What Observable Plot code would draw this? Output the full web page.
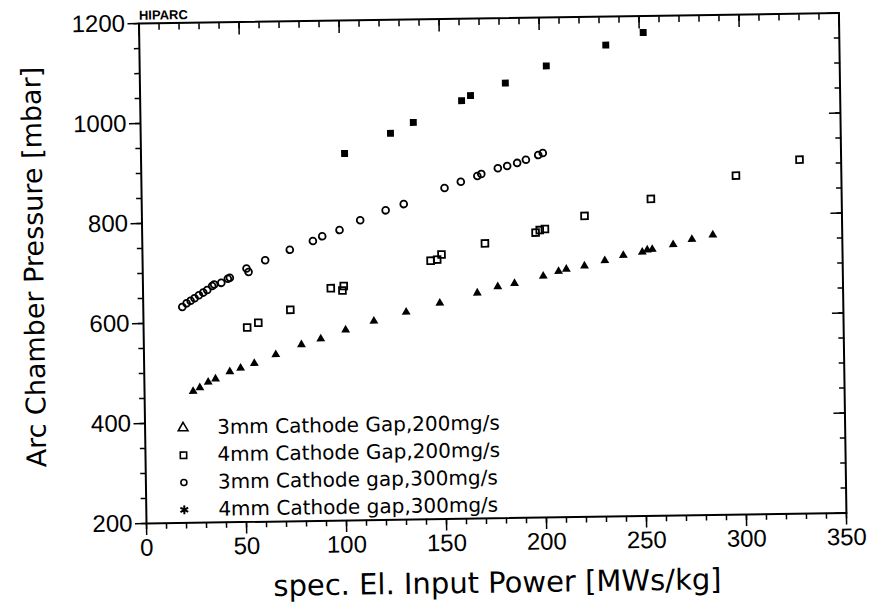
<!DOCTYPE html>
<html>
<head>
<meta charset="utf-8">
<script src="https://cdn.jsdelivr.net/npm/d3@7"></script>
<script src="https://cdn.jsdelivr.net/npm/@observablehq/plot@0.6"></script>
<style>
  html, body { margin: 0; padding: 0; background: white; }
  #chart { width: 871px; height: 608px; transform: rotate(-0.86deg); transform-origin: 146px 523px; }
</style>
</head>
<body>
<div id="chart"></div>
<script>
// ---- data ----
const xTitle = "spec. El. Input Power [MWs/kg]";
const yTitle = "Arc Chamber Pressure [mbar]";
const tagText = "HIPARC";

const xMajorTicks = [0, 50, 100, 150, 200, 250, 300, 350];
const xMinorTicks = d3.range(0, 351, 10);
const yMajorTicks = [200, 400, 600, 800, 1000, 1200];
const yMinorTicks = d3.range(200, 1201, 50);

const seriesLabels = [
  "3mm Cathode Gap,200mg/s",
  "4mm Cathode Gap,200mg/s",
  "3mm Cathode gap,300mg/s",
  "4mm Cathode gap,300mg/s"
];
const legendSymbols = ["triangle", "square", "circle", "asterisk"];

// 3mm Cathode Gap, 200 mg/s (triangles)
const triX = [24.3, 27.7, 31.9, 35.6, 42.8, 48.2, 55.1, 65.9, 78.8, 88.5, 101.0, 115.2, 131.4, 148.3, 167.1, 177.4, 185.8, 200.2, 207.9, 211.8, 220.9, 231.1, 240.4, 249.9, 252.4, 254.9, 265.4, 274.8, 285.3];
const triY = [463, 470, 481, 487, 501, 508, 517, 534, 553, 564, 581, 598, 615, 632, 651, 663, 669, 683, 692, 696, 702, 712, 722, 728, 732, 733, 742, 752, 760];

// 4mm Cathode Gap, 200 mg/s (squares)
const sqX = [51.8, 57.4, 73.5, 93.9, 99.7, 100.4, 144.0, 147.3, 149.5, 171.3, 196.7, 198.8, 201.4, 221.3, 254.6, 297.3, 329.2];
const sqY = [589, 598, 623, 665, 660, 669, 717, 719, 729, 750, 770, 775, 777, 802, 834, 878, 908];

// 3mm Cathode gap, 300 mg/s (circles)
const circX = [19.5, 21.7, 23.7, 25.7, 27.9, 30.1, 32.1, 34.6, 35.6, 39.2, 42.5, 43.5, 51.9, 52.9, 61.3, 73.7, 85.3, 90.0, 98.7, 109.1, 121.9, 131.0, 151.5, 159.7, 168.0, 170.0, 178.3, 183.0, 188.0, 192.4, 198.6, 200.9];
const circY = [632, 639, 644, 649, 655, 660, 665, 673, 676, 679, 687, 689, 707, 700, 723, 743, 760, 769, 781, 800, 819, 831, 862, 874, 885, 889, 900, 904, 910, 916, 925, 929];

// 4mm Cathode gap, 300 mg/s (filled markers)
const fsX = [101.8, 124.9, 136.4, 160.7, 165.2, 182.7, 203.3, 233.2, 252.0];
const fsY = [934, 973, 994, 1036, 1046, 1070, 1103, 1143, 1167];

// ---- build tables ----
const toRows = (xs, ys) => xs.map((x, i) => ({x, y: ys[i]}));
const tri = toRows(triX, triY);
const sq = toRows(sqX, sqY);
const circ = toRows(circX, circY);
const fs = toRows(fsX, fsY);

const tickFont = "'Liberation Sans', Arial, sans-serif";
const textFont = "'DejaVu Sans', sans-serif";
const blank = () => "";

const legendMarks = seriesLabels.flatMap((label, i) => [
  Plot.dot([label], {
    frameAnchor: "bottom-left", dx: 38, dy: -95 + 27.3 * i,
    symbol: legendSymbols[i], r: i === 3 ? 4.2 : (i === 2 ? 3 : 3.6),
    stroke: "black", strokeWidth: i === 3 ? 2 : 1.6, fill: "none"
  }),
  Plot.text([label], {
    frameAnchor: "bottom-left", dx: 72, dy: -95 + 27.3 * i,
    text: d => d, textAnchor: "start", lineAnchor: "middle", fontSize: 20, fontFamily: textFont
  })
]);

const chart = Plot.plot({
  width: 871,
  height: 608,
  marginLeft: 146,
  marginRight: 25,
  marginTop: 23,
  marginBottom: 85,
  x: {domain: [0, 350], label: null},
  y: {domain: [200, 1200], label: null},
  style: {fontFamily: textFont, color: "black", background: "white", overflow: "visible"},
  marks: [
    // ticks: bottom (outward), top (inward)
    Plot.axisX({ticks: xMinorTicks, anchor: "bottom", tickSize: 6, tickFormat: blank, label: null, strokeWidth: 1.5}),
    Plot.axisX({ticks: xMajorTicks, anchor: "bottom", tickSize: 12, tickPadding: 3, label: null, strokeWidth: 1.5,
                fontSize: 24, fontFamily: tickFont, tickFormat: d => String(d)}),
    Plot.axisX({ticks: xMinorTicks, anchor: "top", tickSize: -6, tickFormat: blank, label: null, strokeWidth: 1.5}),
    Plot.axisX({ticks: xMajorTicks, anchor: "top", tickSize: -12, tickFormat: blank, label: null, strokeWidth: 1.5}),
    // ticks: left (outward), right (inward)
    Plot.axisY({ticks: yMinorTicks, anchor: "left", tickSize: 5, tickFormat: blank, label: null, strokeWidth: 1.5}),
    Plot.axisY({ticks: yMajorTicks, anchor: "left", tickSize: 11, tickPadding: 3, label: null, strokeWidth: 1.5,
                fontSize: 24, fontFamily: tickFont, tickFormat: d => String(d)}),
    Plot.axisY({ticks: yMinorTicks, anchor: "right", tickSize: -6, tickFormat: blank, label: null, strokeWidth: 1.5}),
    Plot.axisY({ticks: yMajorTicks, anchor: "right", tickSize: -12, tickFormat: blank, label: null, strokeWidth: 1.5}),
    Plot.frame({stroke: "black", strokeWidth: 2}),
    // data
    Plot.dot(tri, {x: "x", y: "y", symbol: "triangle", r: 3.3, fill: "black"}),
    Plot.dot(sq, {x: "x", y: "y", symbol: "square", r: 3.8, stroke: "black", strokeWidth: 1.8, fill: "none"}),
    Plot.dot(circ, {x: "x", y: "y", symbol: "circle", r: 3.4, stroke: "black", strokeWidth: 1.8, fill: "none"}),
    Plot.dot(fs, {x: "x", y: "y", symbol: "square", r: 3.9, fill: "black"}),
    // legend
    ...legendMarks,
    // titles
    Plot.text([yTitle], {frameAnchor: "left", dx: -108, dy: -8, rotate: -90, text: d => d,
                         textAnchor: "middle", lineAnchor: "middle", fontSize: 27, fontFamily: textFont}),
    Plot.text([xTitle], {frameAnchor: "bottom", dy: 65, text: d => d,
                         textAnchor: "middle", lineAnchor: "middle", fontSize: 29, fontFamily: textFont}),
    Plot.text([tagText], {frameAnchor: "top-left", dy: -8, textAnchor: "start", lineAnchor: "middle", text: d => d,
                          fontSize: 13, fontWeight: "bold", fontFamily: "'Liberation Sans', sans-serif"})
  ]
});

document.getElementById("chart").appendChild(chart);
</script>
</body>
</html>
